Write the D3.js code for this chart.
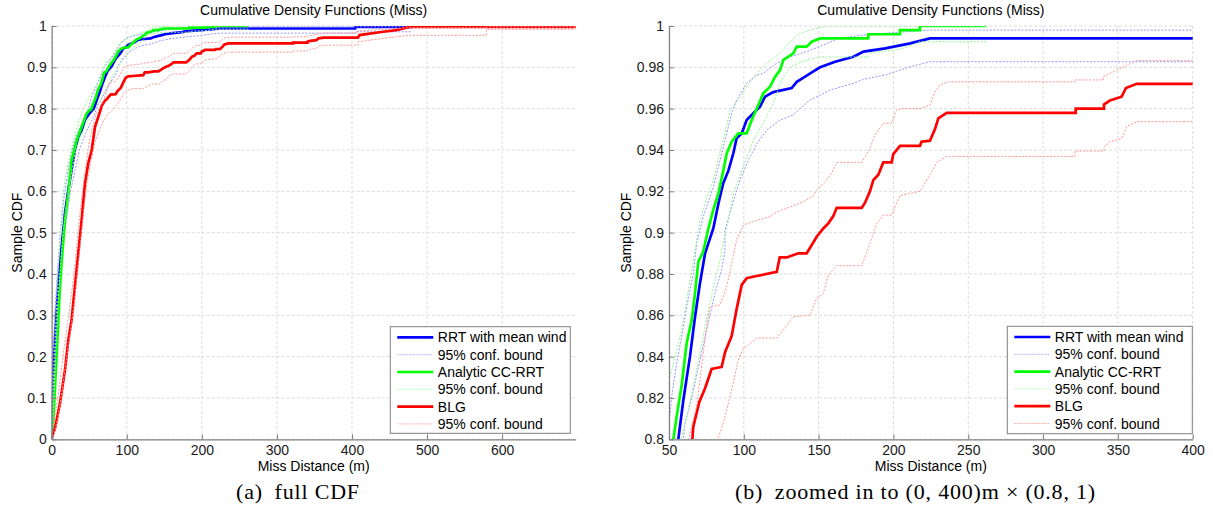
<!DOCTYPE html>
<html><head><meta charset="utf-8">
<script src="https://cdn.jsdelivr.net/npm/d3@7"></script>
<style>body{margin:0;background:#fff} svg{display:block}</style>
</head><body><svg id="c" width="1213" height="519"></svg>
<script>
// ---- Data (miss distance [m], sample CDF) ----
const rrt = [[0,0],[0.9,0.087],[2.2,0.168],[4.4,0.24],[6.7,0.313],[9.7,0.393],[13.3,0.466],[17.7,0.547],[22.1,0.603],[26.5,0.652],[30.9,0.70],[35.4,0.732],[39.9,0.748],[44.3,0.773],[50.9,0.79],[56.2,0.80],[59.6,0.819],[64,0.84],[67.4,0.8593],[70.7,0.8755],[74.1,0.89],[76.3,0.8948],[79.6,0.902],[83,0.914],[86.3,0.924],[89.7,0.93],[93,0.9384],[95.2,0.9457],[98.6,0.948],[101.9,0.9545],[106.4,0.9578],[110.8,0.961],[114.2,0.9658],[119.7,0.968],[132,0.97],[135.4,0.973],[141,0.9755],[146.5,0.978],[151,0.98],[161,0.9827],[173.3,0.9851],[180,0.9876],[194.5,0.9892],[211.2,0.9916],[224.4,0.994],[404,0.994],[404,0.998],[479,0.998],[479,1]];
const rrtUpper = [[0,0],[0.4,0.1],[1.8,0.2],[4,0.3],[7.5,0.4],[11.5,0.5],[16,0.58],[21,0.64],[27,0.7],[34,0.74],[42,0.77],[49,0.8],[51.8,0.8206],[55.1,0.8368],[58.5,0.8497],[61.8,0.864],[66.2,0.88],[68.5,0.8948],[72.9,0.9077],[79.6,0.922],[84.1,0.935],[88.6,0.948],[91.9,0.9577],[95.2,0.9642],[101.9,0.9723],[108,0.976],[113,0.9771],[122,0.982],[130.9,0.9851],[142,0.9876],[153.1,0.9908],[163.2,0.994],[184.3,0.996],[224.4,0.998],[479,0.998]];
const rrtLower = [[0,0],[1.5,0.1],[4.2,0.2],[7.3,0.3],[11.8,0.4],[17,0.5],[25,0.6],[37,0.7],[45,0.74],[53,0.77],[58,0.79],[60.7,0.8077],[65.2,0.82],[70.7,0.8384],[75.2,0.853],[80.7,0.8707],[85.2,0.882],[87.4,0.8916],[87.4,0.901],[91.9,0.9126],[97.5,0.9255],[103,0.935],[108.6,0.943],[115.3,0.9497],[124.2,0.9545],[133.1,0.957],[137.5,0.96],[144.3,0.9642],[151,0.9666],[157.6,0.969],[173.3,0.9723],[180,0.9742],[194.5,0.9763],[211.2,0.9803],[224.4,0.9827],[404,0.9827],[404,0.986],[479,0.986]];

const cc = [[0,0],[2.2,0.047],[4.4,0.127],[6.7,0.208],[8.8,0.289],[11,0.369],[14.1,0.45],[17.7,0.531],[22.1,0.595],[26.5,0.676],[33.3,0.724],[39.9,0.756],[46.6,0.789],[52.9,0.80],[55.1,0.811],[58.5,0.8263],[61.8,0.8465],[65.2,0.8577],[67.4,0.8707],[69.6,0.886],[72.9,0.8908],[76.3,0.902],[79.6,0.911],[83,0.919],[86.3,0.93],[88.6,0.9384],[91.9,0.944],[96.3,0.948],[101.9,0.948],[105.3,0.9545],[109.7,0.9618],[113,0.9674],[117.5,0.9706],[120.9,0.9755],[124.2,0.9787],[126.5,0.9836],[133.1,0.9868],[135.4,0.99],[142,0.99],[145.4,0.9924],[151,0.994],[183.2,0.994],[183.2,0.996],[204.4,0.996],[204.4,0.998],[217.7,0.998],[217.7,1],[262,1]];
const ccUpper = [[0,0],[1.5,0.1],[3.5,0.2],[6,0.3],[8.5,0.4],[11.5,0.5],[15.5,0.6],[20,0.65],[26,0.7],[33,0.75],[40,0.79],[45,0.81],[49.6,0.827],[54,0.84],[58.5,0.853],[61.8,0.8674],[65.2,0.882],[67.4,0.8916],[70.7,0.906],[75.2,0.917],[79.6,0.9255],[83,0.936],[87.4,0.948],[90.8,0.9594],[96.3,0.9642],[101.9,0.9706],[108.6,0.977],[115.3,0.982],[124.2,0.9868],[132,0.9932],[137.5,0.9965],[144.3,0.998],[155,1],[262,1]];
const ccLower = [[0,0],[3,0.1],[5.3,0.2],[7.5,0.3],[11,0.4],[15,0.5],[20,0.56],[25,0.63],[32,0.7],[38,0.73],[46,0.765],[52,0.785],[58.5,0.801],[62.9,0.814],[67.4,0.83],[71.9,0.8465],[76.3,0.8626],[80.7,0.877],[84.1,0.8868],[85.2,0.8916],[89.7,0.906],[93,0.919],[99.7,0.932],[106.4,0.9448],[113,0.953],[119.7,0.9626],[125.3,0.9739],[130.9,0.9803],[142,0.9836],[151,0.985],[183.2,0.985],[183.2,0.987],[204.4,0.9887],[217.7,0.9924],[262,0.9924]];

const blg = [[0,0],[0.5,0.0063],[4.4,0.027],[11,0.087],[17.7,0.168],[22.1,0.24],[26.5,0.289],[30.9,0.369],[35.4,0.45],[39.9,0.531],[44.3,0.619],[48.7,0.668],[53.3,0.70],[57.7,0.756],[62.1,0.78],[65.6,0.80],[66.2,0.806],[70.2,0.818],[74.1,0.8247],[78.5,0.834],[85.2,0.835],[87.4,0.842],[91.9,0.85],[95.2,0.863],[98.6,0.8747],[101.9,0.878],[108.6,0.879],[122,0.881],[124,0.888],[128.7,0.888],[136.4,0.89],[142,0.89],[145.4,0.894],[148.7,0.898],[153.1,0.902],[156.5,0.9045],[159.8,0.908],[162.1,0.912],[178.8,0.912],[181,0.9145],[184.3,0.92],[186.6,0.9255],[189.9,0.928],[193.2,0.934],[198.8,0.934],[199.9,0.938],[204.4,0.942],[217.7,0.942],[218.8,0.944],[224.4,0.9445],[227.7,0.95],[230,0.9553],[235.6,0.958],[321.8,0.958],[321.8,0.96],[340.7,0.96],[340.7,0.962],[344.7,0.964],[352.5,0.9658],[355.4,0.97],[362.5,0.972],[408,0.972],[410,0.978],[441.5,0.986],[459,0.99],[477,0.998],[698,0.998],[698,1]];
const blgUpper = [[0,0],[2,0.03],[8,0.1],[15,0.2],[21,0.28],[27,0.36],[32,0.44],[36,0.52],[41,0.6],[46,0.67],[50,0.72],[55,0.76],[59,0.785],[63,0.80],[68.5,0.816],[72.9,0.842],[76.3,0.86],[77.4,0.8642],[84.1,0.865],[88.6,0.874],[95.2,0.8964],[99.7,0.9037],[108.6,0.906],[117.5,0.9077],[122,0.91],[133.1,0.913],[139.8,0.915],[146.5,0.918],[148.7,0.9206],[155.4,0.9255],[158.7,0.9287],[162.1,0.934],[178.8,0.934],[184.3,0.9408],[187.7,0.9473],[193.2,0.9529],[198.8,0.953],[202.1,0.9594],[205.5,0.96],[217.7,0.96],[224.4,0.9618],[227.7,0.968],[231,0.9715],[236.7,0.973],[321.3,0.973],[321.3,0.9739],[340.2,0.9739],[340.2,0.9755],[344.7,0.977],[355.9,0.981],[362.5,0.9832],[408,0.9832],[408,0.988],[441,0.992],[478,0.996],[579,0.996],[579,0.998],[698,0.998]];
const blgLower = [[0,0],[3,0.01],[8,0.05],[14,0.12],[20,0.2],[25,0.26],[30,0.33],[34,0.4],[38.5,0.48],[43,0.56],[47,0.62],[52,0.67],[58,0.72],[66,0.76],[74,0.785],[80,0.795],[86.3,0.8077],[91.9,0.8239],[96.3,0.8384],[99.7,0.844],[103,0.8456],[108.6,0.849],[122,0.849],[126.5,0.853],[133.1,0.8594],[144.3,0.86],[148.7,0.8682],[153.1,0.8707],[156.5,0.8795],[162.1,0.884],[178.8,0.884],[184.3,0.8948],[188.8,0.9045],[193.2,0.9085],[198.8,0.9085],[204.4,0.918],[217.7,0.92],[224.4,0.928],[228.9,0.934],[235.6,0.9368],[321.3,0.9368],[321.3,0.9395],[340.7,0.9395],[340.7,0.9416],[344.7,0.944],[352.5,0.9456],[355.9,0.9513],[362.5,0.9537],[408,0.9537],[408,0.962],[441,0.97],[477,0.9775],[579,0.9775],[579,0.992],[698,0.992]];

const legendLabels = ["RRT with mean wind","95% conf. bound","Analytic CC-RRT","95% conf. bound","BLG","95% conf. bound"];
const leftXTicks = [0,100,200,300,400,500,600];
const leftYTicks = [0,0.1,0.2,0.3,0.4,0.5,0.6,0.7,0.8,0.9,1];
const leftYLabels = ["0","0.1","0.2","0.3","0.4","0.5","0.6","0.7","0.8","0.9","1"];
const rightXTicks = [50,100,150,200,250,300,350,400];
const rightYTicks = [0.8,0.82,0.84,0.86,0.88,0.9,0.92,0.94,0.96,0.98,1];
const rightYLabels = ["0.8","0.82","0.84","0.86","0.88","0.9","0.92","0.94","0.96","0.98","1"];
const titleText = "Cumulative Density Functions (Miss)";
const xLabelText = "Miss Distance (m)";
const yLabelText = "Sample CDF";
const captions = ["(a)\u2002full CDF", "(b)\u2002zoomed in to (0, 400)m \u00d7 (0.8, 1)"];

// ---- Styles ----
const series = [
  {data: rrt, color:"#0000ff", w:2.7, dash:null},
  {data: rrtUpper, color:"#9494ff", w:1, dash:"2,1.5"},
  {data: rrtLower, color:"#9494ff", w:1, dash:"2,1.5"},
  {data: cc, color:"#00ff00", w:2.7, dash:null},
  {data: ccUpper, color:"#94f594", w:1, dash:"2,1.5"},
  {data: ccLower, color:"#94f594", w:1, dash:"2,1.5"},
  {data: blg, color:"#ff0000", w:2.7, dash:null},
  {data: blgUpper, color:"#ff9494", w:1, dash:"2,1.5"},
  {data: blgLower, color:"#ff9494", w:1, dash:"2,1.5"}
];
const legendStyles = [
  {color:"#0000ff", w:2.7, dash:null},{color:"#b3b3ff", w:1, dash:"2,1"},
  {color:"#00ff00", w:2.7, dash:null},{color:"#b3ffb3", w:1, dash:"2,1"},
  {color:"#ff0000", w:2.7, dash:null},{color:"#ffb3b3", w:1, dash:"2,1"}
];
const FONT = "'Liberation Sans', Arial, Helvetica, sans-serif";
const svg = d3.select("#c");

function panel(p, idx) {
  const x = d3.scaleLinear().domain(p.xDomain).range([p.x0, p.x1]);
  const y = d3.scaleLinear().domain(p.yDomain).range([p.yB, p.yT]);
  const g = svg.append("g");
  const gridC = "#dcdcdc";
  g.selectAll(".gx").data(p.xTicks).join("line")
    .attr("x1", d => x(d)).attr("x2", d => x(d)).attr("y1", p.yT).attr("y2", p.yB)
    .attr("stroke", gridC).attr("stroke-width", 1).attr("stroke-dasharray", "3,2");
  g.selectAll(".gy").data(p.yTicks).join("line")
    .attr("x1", p.x0).attr("x2", p.x1).attr("y1", d => y(d)).attr("y2", d => y(d))
    .attr("stroke", gridC).attr("stroke-width", 1).attr("stroke-dasharray", "3,2");

  const clipId = "clip" + idx;
  svg.append("clipPath").attr("id", clipId).append("rect")
    .attr("x", p.x0).attr("y", p.yT).attr("width", p.x1 - p.x0).attr("height", p.yB - p.yT);
  const line = d3.line().x(d => x(d[0])).y(d => y(d[1]));
  const lg = g.append("g").attr("clip-path", `url(#${clipId})`);
  series.forEach(s => {
    lg.append("path").attr("d", line(s.data)).attr("fill", "none")
      .attr("stroke", s.color).attr("stroke-width", s.w)
      .attr("stroke-dasharray", s.dash).attr("stroke-linejoin", "miter");
  });

  const axC = "#7f7f7f";
  const xa = g.append("g").attr("transform", `translate(0,${p.yB})`)
    .call(d3.axisBottom(x).tickValues(p.xTicks).tickSizeInner(-5).tickSizeOuter(0).tickPadding(6));
  const ya = g.append("g").attr("transform", `translate(${p.x0},0)`)
    .call(d3.axisLeft(y).tickValues(p.yTicks).tickFormat((d, i) => p.yLabels[i]).tickSizeInner(-5).tickSizeOuter(0).tickPadding(5));
  [xa, ya].forEach(a => {
    a.select(".domain").attr("stroke", axC).attr("stroke-width", 1.2);
    a.selectAll(".tick line").attr("stroke", axC);
    a.selectAll("text").attr("fill", "#1a1a1a").style("font-family", FONT).style("font-size", "14px");
  });
  const cx = (p.x0 + p.x1) / 2;
  g.append("text").attr("x", cx).attr("y", 15).attr("text-anchor", "middle")
    .style("font-family", FONT).style("font-size", "14px").attr("fill", "#000").text(titleText);
  g.append("text").attr("x", cx).attr("y", 471).attr("text-anchor", "middle")
    .style("font-family", FONT).style("font-size", "14px").attr("fill", "#000").text(xLabelText);
  g.append("text").attr("transform", `translate(${p.yLabelX},${(p.yT + p.yB) / 2}) rotate(-90)`)
    .attr("text-anchor", "middle").style("font-family", FONT).style("font-size", "14px").attr("fill", "#000").text(yLabelText);

  // legend
  const L = p.legend;
  const lgd = g.append("g");
  lgd.append("rect").attr("x", L.x).attr("y", L.y).attr("width", L.w).attr("height", L.h)
    .attr("fill", "#fff").attr("stroke", "#7f7f7f").attr("stroke-width", 1);
  legendLabels.forEach((t, i) => {
    const cy = L.y + 10.7 + i * 17.3;
    const st = legendStyles[i];
    lgd.append("line").attr("x1", L.x + 7).attr("x2", L.x + 43).attr("y1", cy).attr("y2", cy)
      .attr("stroke", st.color).attr("stroke-width", st.w).attr("stroke-dasharray", st.dash);
    lgd.append("text").attr("x", L.x + 47.5).attr("y", cy + 5).style("font-family", FONT)
      .style("font-size", "14px").attr("fill", "#000").text(t);
  });

  // caption
  svg.append("text").attr("x", p.capX).attr("y", 498.5).attr("text-anchor", "start")
    .style("font-family", "'Liberation Serif', 'Times New Roman', serif").style("font-size", "22px")
    .style("letter-spacing", "0.8px").attr("fill", "#000").text(captions[idx]);
}

panel({xDomain:[0,698], yDomain:[0,1], x0:51.7, x1:575.7, yT:26, yB:439.3,
  xTicks:leftXTicks, yTicks:leftYTicks, yLabels:leftYLabels, yLabelX:21.5,
  legend:{x:390.3, y:326.7, w:180, h:106.6}, capX:236}, 0);
panel({xDomain:[50,400], yDomain:[0.8,1], x0:669, x1:1192.7, yT:26, yB:439.3,
  xTicks:rightXTicks, yTicks:rightYTicks, yLabels:rightYLabels, yLabelX:631,
  legend:{x:1007.3, y:326.3, w:185, h:107.4}, capX:735}, 1);
</script></body></html>
